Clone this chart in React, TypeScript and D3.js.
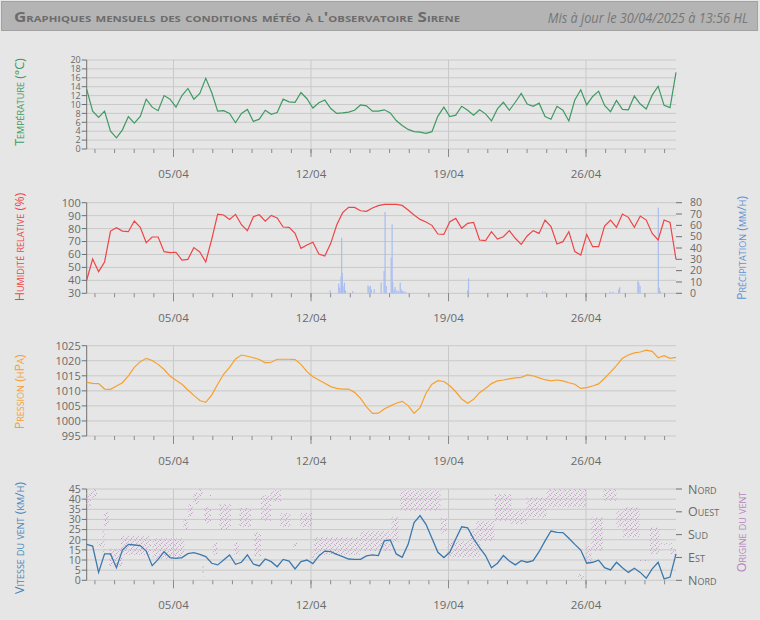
import React from "react";
import * as d3 from "d3";

// fenêtre glissante de 30 jours jusqu'à la mise à jour
const START = new Date(2025, 2, 31, 13, 56);
const END = new Date(2025, 3, 30, 13, 56);

// relevés réguliers (100 points sur la période)
const temperature = [
  13.4, 8.5, 7.1, 8.5, 4.0, 2.5, 4.3, 7.3, 5.8, 7.3, 11.2, 9.4, 8.6, 12.0, 11.2, 9.4, 12.0, 13.6, 11.2, 12.5,
  15.9, 12.7, 8.5, 8.6, 8.0, 5.9, 8.0, 8.9, 6.2, 6.7, 8.7, 7.8, 8.2, 11.2, 10.6, 10.5, 12.7, 11.3, 9.2, 10.4,
  11.0, 9.1, 8.0, 8.1, 8.3, 8.7, 9.9, 9.7, 8.5, 8.5, 8.8, 8.1, 6.4, 5.3, 4.4, 3.9, 3.8, 3.5, 3.9, 7.4,
  9.4, 7.3, 7.6, 9.6, 8.7, 7.6, 8.8, 7.9, 6.3, 9.0, 10.5, 8.7, 10.5, 12.5, 10.1, 9.6, 10.3, 7.3, 6.7, 9.6,
  8.7, 6.3, 11.0, 13.3, 9.9, 11.8, 13.0, 9.8, 8.4, 10.9, 8.9, 8.8, 11.9, 10.1, 9.0, 12.1, 14.1, 9.8, 9.3, 17.2,
];

const humidity = [
  40.3, 56.5, 46.7, 54.2, 78.1, 80.7, 78.1, 77.6, 85.8, 81.0, 69.1, 73.5, 73.5, 62.2, 61.4, 61.7, 55.7, 56.2, 65.3, 61.9,
  54.2, 71.7, 91.2, 90.5, 87.1, 91.0, 83.0, 78.4, 89.2, 90.7, 85.8, 90.2, 88.2, 81.2, 81.0, 76.3, 64.7, 67.3, 69.4, 60.4,
  58.8, 68.6, 82.8, 92.3, 96.4, 96.4, 93.8, 93.3, 95.9, 97.7, 98.7, 98.7, 98.7, 97.9, 94.3, 90.5, 87.1, 85.1, 82.5, 75.8,
  75.5, 85.3, 87.9, 80.2, 84.0, 84.8, 71.2, 70.7, 77.6, 71.9, 73.7, 78.4, 72.5, 67.8, 74.3, 78.4, 76.3, 86.6, 81.5, 68.1,
  69.9, 77.6, 62.2, 59.6, 75.5, 66.0, 66.0, 82.0, 86.6, 81.0, 91.2, 88.7, 81.0, 89.7, 86.6, 76.3, 71.2, 86.6, 84.8, 56.2,
];

const pressure = [
  1012.8, 1012.5, 1012.4, 1010.6, 1010.5, 1011.6, 1012.7, 1015.0, 1017.8, 1019.7, 1020.8, 1020.1, 1018.8, 1017.1, 1014.9, 1013.5, 1012.2, 1010.3, 1008.5, 1006.8,
  1006.2, 1008.6, 1012.2, 1015.5, 1017.8, 1020.6, 1021.9, 1021.5, 1021.0, 1020.4, 1019.3, 1019.5, 1020.5, 1020.5, 1020.5, 1020.4, 1018.8, 1016.4, 1014.7, 1013.6,
  1012.5, 1011.4, 1010.8, 1010.6, 1010.6, 1009.5, 1007.5, 1004.7, 1002.5, 1002.6, 1004.0, 1005.0, 1005.9, 1006.5, 1005.1, 1002.5, 1004.4, 1009.2, 1012.2, 1013.4,
  1013.1, 1011.7, 1009.7, 1007.3, 1005.9, 1007.2, 1009.4, 1010.8, 1012.4, 1013.3, 1013.6, 1014.0, 1014.3, 1014.5, 1015.3, 1015.0, 1014.3, 1013.7, 1013.3, 1013.6,
  1013.3, 1012.7, 1012.2, 1010.8, 1011.1, 1011.6, 1012.3, 1014.2, 1016.2, 1018.4, 1020.8, 1021.9, 1022.6, 1022.9, 1023.5, 1023.1, 1021.0, 1021.7, 1020.8, 1021.1,
];

const windSpeed = [
  17.7, 16.9, 3.9, 13.0, 13.0, 6.2, 14.9, 17.7, 17.4, 17.1, 14.4, 7.2, 10.3, 14.1, 11.2, 10.8, 11.2, 13.1, 13.6, 12.8,
  11.7, 8.4, 7.6, 10.0, 12.5, 7.9, 8.9, 12.5, 8.0, 7.1, 10.5, 9.2, 6.7, 10.3, 9.5, 5.6, 9.2, 10.0, 8.2, 12.0,
  14.4, 14.1, 12.8, 11.7, 10.5, 10.3, 10.3, 12.0, 12.5, 12.2, 19.5, 19.9, 13.0, 11.3, 17.7, 28.4, 31.9, 27.6, 20.7, 13.8,
  11.2, 13.8, 20.4, 26.4, 25.9, 20.4, 16.1, 12.2, 6.2, 8.4, 12.2, 9.5, 7.6, 9.7, 8.9, 9.7, 14.1, 19.4, 24.3, 23.6,
  23.5, 20.7, 17.7, 14.9, 8.4, 8.9, 9.9, 6.2, 5.1, 8.9, 6.2, 3.9, 5.9, 3.9, 1.0, 5.6, 8.9, 0.7, 1.6, 13.0,
];

// précipitations : jour d'avril (décimal) et intensité en mm/h
const rainDays = [
  12.98, 13.41, 13.46, 13.53, 13.56, 13.59, 13.63, 13.7, 13.75, 14.12, 14.9, 14.95, 15.02, 15.07, 15.22,
  15.57, 15.72, 15.77, 15.83, 16.08, 16.13, 16.16, 16.23, 16.28, 16.37, 16.45, 16.54, 16.59, 16.66, 16.74, 16.83,
  19.97, 20.02, 23.79, 23.92, 27.23, 27.37, 27.66, 27.71, 28.64, 28.69, 28.75, 29.68, 29.73, 29.78,
];
const rainValues = [
  2.6, 8.5, 5, 15, 49, 18, 6.5, 9.4, 2.6, 1.8, 7, 5.6, 6.5, 3.5, 3.5,
  9.4, 19.7, 71.8, 6.5, 31.5, 60.9, 10, 3.5, 5.6, 2.6, 2, 9.4, 3.5, 2, 1.8, 1.2,
  2.6, 13.2, 1.5, 1.5, 1.5, 1.5, 3.5, 5.3, 10.9, 9.4, 6.5, 75.6, 5, 2,
];

// nuages de relevés de direction : [jour début, jour fin, direction min, direction max] (degrés)
const windDirBands = [
  [0.54, 0.79, 290, 345], [0.79, 1.1, 325, 360], [1.1, 1.38, 135, 150], [1.38, 1.5, 110, 200],
  [1.45, 1.72, 215, 270], [1.72, 2.4, 55, 125], [2.32, 3.85, 100, 175], [3.93, 5.55, 85, 165],
  [5.5, 5.75, 200, 240], [5.75, 6.0, 250, 300], [6.0, 6.3, 300, 345], [6.3, 6.5, 330, 360],
  [6.45, 6.55, 15, 60], [6.56, 6.91, 225, 290], [6.85, 6.95, 330, 340], [6.99, 7.24, 100, 150],
  [7.33, 7.92, 200, 300], [8.1, 8.35, 100, 150], [8.35, 8.94, 210, 285], [9.11, 9.45, 95, 190],
  [9.45, 9.96, 235, 335], [9.96, 10.47, 310, 355], [10.44, 10.95, 210, 265], [11.1, 11.3, 130, 150],
  [11.46, 12.05, 210, 265], [12.05, 12.2, 75, 110], [12.13, 14.51, 100, 170], [14.51, 16.04, 115, 195],
  [16.1, 16.46, 150, 250], [16.55, 18.59, 275, 355], [18.6, 18.9, 185, 245], [18.93, 20.62, 90, 155],
  [20.1, 20.42, 155, 195], [20.42, 21.35, 156, 235], [21.35, 22.2, 235, 340], [22.2, 22.97, 222, 275],
  [22.97, 23.99, 248, 327], [23.99, 26.02, 288, 360], [25.6, 25.9, 5, 25], [26.02, 26.28, 70, 135],
  [26.28, 26.87, 117, 248], [26.87, 27.55, 314, 360], [27.55, 27.89, 209, 275], [27.89, 28.74, 169, 288],
  [28.74, 29.25, 75, 80], [29.25, 29.76, 104, 209], [29.76, 30.44, 140, 146], [30.3, 30.58, 100, 130],
];

const dirTicks = [0, 90, 180, 270, 360];
const dirNames = ["Nord", "Est", "Sud", "Ouest", "Nord"];

const tempTicks = d3.range(0, 21, 2);
const humTicks = d3.range(30, 101, 10);
const rainTicks = d3.range(0, 81, 10);
const pressTicks = d3.range(995, 1026, 5);
const windTicks = d3.range(0, 46, 5);

const X0 = 86.7;
const X1 = 676;
const GRID = "#c9c9c9";
const TICK = "#8a8a8a";
const TXT = "#6a6a6a";
const FONT = "'Open Sans', 'DejaVu Sans', sans-serif";

const x = d3.scaleTime().domain([START, END]).range([X0, X1]);
const atSample = (i: number, n: number) =>
  new Date(START.getTime() + (i * (END.getTime() - START.getTime())) / (n - 1));
const aprilDay = (d: number) => new Date(new Date(2025, 3, 1).getTime() + (d - 1) * 864e5);

const days = d3.timeDay.range(START, END);
const weeks = d3.timeSaturday.range(START, END);
const fmtDay = d3.timeFormat("%d/%m");

function Frame({ y, ticks, top, bottom, size }: any) {
  return (
    <g>
      {ticks.map((t: number) => (
        <line key={"g" + t} x1={X0} x2={X1} y1={y(t)} y2={y(t)} stroke={GRID} strokeWidth={1} />
      ))}
      {weeks.map((d) => (
        <line key={"w" + d.getTime()} x1={x(d)} x2={x(d)} y1={top} y2={bottom} stroke={GRID} strokeWidth={1} />
      ))}
      {weeks.map((d) => (
        <line key={"wt" + d.getTime()} x1={x(d)} x2={x(d)} y1={bottom} y2={bottom + 8} stroke={TICK} strokeWidth={1} />
      ))}
      {days.map((d) => (
        <line key={"d" + d.getTime()} x1={x(d)} x2={x(d)} y1={bottom} y2={bottom + 4} stroke={TICK} strokeWidth={1} />
      ))}
      <line x1={X0} x2={X0} y1={top} y2={bottom} stroke="#707070" strokeWidth={1} />
      {ticks.map((t: number) => (
        <g key={"l" + t}>
          <line x1={X0 - 5} x2={X0} y1={y(t)} y2={y(t)} stroke="#707070" />
          <text x={X0 - 6} y={y(t)} dy="0.36em" textAnchor="end" fontSize={size} fill={TXT} fontFamily={FONT}>
            {t}
          </text>
        </g>
      ))}
      {weeks.map((d) => (
        <text key={"x" + d.getTime()} x={x(d)} y={bottom + 29} textAnchor="middle" fontSize={11.5} fill={TXT} fontFamily={FONT}>
          {fmtDay(d)}
        </text>
      ))}
    </g>
  );
}

function AxisTitle({ cx, cy, color, children }: any) {
  return (
    <text
      transform={`translate(${cx},${cy}) rotate(-90)`}
      textAnchor="middle"
      dy="0.35em"
      fontSize={12.5}
      fill={color}
      fontFamily={FONT}
      style={{ fontVariant: "small-caps" }}
    >
      {children}
    </text>
  );
}

export default function App() {
  const yTemp = d3.scaleLinear().domain([0, 20]).range([149, 60]);
  const yHum = d3.scaleLinear().domain([30, 100]).range([293.3, 202.7]);
  const yRain = d3.scaleLinear().domain([0, 80]).range([293.3, 202.7]);
  const yPress = d3.scaleLinear().domain([995, 1025]).range([436, 345.7]);
  const yWind = d3.scaleLinear().domain([0, 45]).range([580.3, 489]);
  const yDir = d3.scaleLinear().domain([0, 360]).range([580.3, 489]);

  const line = (vals: number[], y: any) =>
    d3
      .line<number>()
      .x((_, i) => x(atSample(i, vals.length)))
      .y((v) => y(v))(vals) || "";

  return (
    <svg width={760} height={620} style={{ position: "absolute", left: 0, top: 0, background: "#e6e6e6" }}>
      <defs>
        <pattern id="dirDots" patternUnits="userSpaceOnUse" width={5} height={5}>
          <rect x={0} y={0} width={1} height={1} fill="#c49cc9" />
          <rect x={3} y={1} width={1} height={1} fill="#cfb0d3" />
          <rect x={1} y={3} width={1} height={1} fill="#c49cc9" />
          <rect x={4} y={4} width={1} height={1} fill="#cfb0d3" />
          <rect x={2} y={2} width={1} height={1} fill="#d6bcd8" />
        </pattern>
      </defs>
      <rect x={0} y={0} width={760} height={620} fill="#e6e6e6" />

      {/* bandeau titre */}
      <rect x={1.5} y={1.5} width={756} height={29} fill="#b4b4b4" stroke="#a2a2a2" />
      <text
        x={14}
        y={22}
        fontSize={13.5}
        fontWeight={700}
        fill="#6c6c6c"
        fontFamily={FONT}
        style={{ fontVariant: "small-caps" }}
        textLength={446}
        lengthAdjust="spacingAndGlyphs"
      >
        Graphiques mensuels des conditions météo à l'observatoire Sirene
      </text>
      <text
        transform="translate(748,22.5) scale(0.91,1)"
        textAnchor="end"
        fontSize={14}
        fontStyle="italic"
        fill="#777"
        fontFamily={FONT}
      >
        Mis à jour le 30/04/2025 à 13:56 HL
      </text>

      {/* température */}
      <Frame y={yTemp} ticks={tempTicks} top={60} bottom={149} size={9} />
      <path d={line(temperature, yTemp)} fill="none" stroke="#3f9a63" strokeWidth={1.2} />
      <AxisTitle cx={20} cy={102} color="#3f9a63">Température (°C)</AxisTitle>

      {/* humidité + précipitations */}
      <Frame y={yHum} ticks={humTicks} top={202.7} bottom={293.3} size={11} />
      {rainDays.map((d, i) => (
        <rect
          key={"r" + i}
          x={x(aprilDay(d)) - 0.6}
          width={1.2}
          y={yRain(rainValues[i])}
          height={yRain(0) - yRain(rainValues[i])}
          fill="#a9bdf0"
        />
      ))}
      <path d={line(humidity, yHum)} fill="none" stroke="#ee4545" strokeWidth={1.2} />
      {rainTicks.map((t) => (
        <g key={"rt" + t}>
          <line x1={X1} x2={X1 + 6} y1={yRain(t)} y2={yRain(t)} stroke="#707070" />
          <text x={X1 + 14} y={yRain(t)} dy="0.36em" fontSize={10.5} fill={TXT} fontFamily={FONT}>
            {t}
          </text>
        </g>
      ))}
      <AxisTitle cx={20} cy={247} color="#ee4545">Humidité relative (%)</AxisTitle>
      <AxisTitle cx={742} cy={248} color="#5f93d4">Précipitation (mm/h)</AxisTitle>

      {/* pression */}
      <Frame y={yPress} ticks={pressTicks} top={345.7} bottom={436} size={11} />
      <path d={line(pressure, yPress)} fill="none" stroke="#f7a02e" strokeWidth={1.2} />
      <AxisTitle cx={20} cy={392} color="#f7a02e">Pression (hPa)</AxisTitle>

      {/* vent */}
      <Frame y={yWind} ticks={windTicks} top={489} bottom={580.3} size={10.5} />
      {windDirBands.map((b, i) => (
        <rect
          key={"b" + i}
          x={x(aprilDay(b[0]))}
          width={Math.max(1, x(aprilDay(b[1])) - x(aprilDay(b[0])))}
          y={yDir(b[3])}
          height={Math.max(1, yDir(b[2]) - yDir(b[3]))}
          fill="url(#dirDots)"
        />
      ))}
      <path d={line(windSpeed, yWind)} fill="none" stroke="#3a78ad" strokeWidth={1.3} />
      {dirTicks.map((t, i) => (
        <g key={"dt" + i}>
          <line x1={X1} x2={X1 + 6} y1={yDir(t)} y2={yDir(t)} stroke="#707070" />
          <text
            x={X1 + 12}
            y={yDir(t)}
            dy="0.36em"
            fontSize={12.5}
            fill={TXT}
            fontFamily={FONT}
            style={{ fontVariant: "small-caps" }}
          >
            {dirNames[i]}
          </text>
        </g>
      ))}
      <AxisTitle cx={20} cy={538} color="#4a86b8">Vitesse du vent (km/h)</AxisTitle>
      <AxisTitle cx={742} cy={532} color="#b786c0">Origine du vent</AxisTitle>
    </svg>
  );
}
